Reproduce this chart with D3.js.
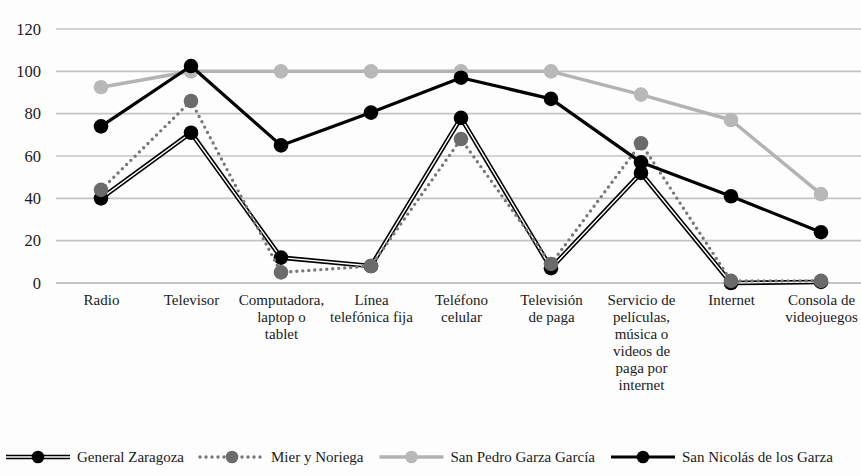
<!DOCTYPE html>
<html>
<head>
<meta charset="utf-8">
<script src="https://cdn.jsdelivr.net/npm/d3@7/dist/d3.min.js"></script>
</head>
<body style="margin:0;background:#fdfdfd">
<svg id="chart" width="861" height="476" font-family="Liberation Serif"></svg>
<script>
// Category labels, one entry per line of the wrapped tick text
const categoryLines = [
  ["Radio"],
  ["Televisor"],
  ["Computadora,", "laptop o", "tablet"],
  ["Línea", "telefónica fija"],
  ["Teléfono", "celular"],
  ["Televisión", "de paga"],
  ["Servicio de", "películas,", "música o", "videos de", "paga por", "internet"],
  ["Internet"],
  ["Consola de", "videojuegos"]
];
const categories = categoryLines.map(l => l.join(" "));

const yTicks = [0, 20, 40, 60, 80, 100, 120];

const seriesNames = ["General Zaragoza", "Mier y Noriega", "San Pedro Garza García", "San Nicolás de los Garza"];
const generalZaragoza = [40, 71, 12, 8, 78, 7, 52, 0, 0.5];
const mierYNoriega    = [44, 86, 5, 8, 68, 9, 66, 1, 1];
const sanPedro        = [92.5, 100, 100, 100, 100, 100, 89, 77, 42];
const sanNicolas      = [74, 102.5, 65, 80.5, 97, 87, 57, 41, 24];

const seriesValues = [generalZaragoza, mierYNoriega, sanPedro, sanNicolas];

const FONT = "Liberation Serif";

// Visual style of each series
const styles = [
  { kind: "double", line: "#000", marker: "#000" },
  { kind: "dots",   line: "#777", marker: "#6b6b6b" },
  { kind: "solid",  line: "#b3b3b3", marker: "#b8b8b8", width: 3.5 },
  { kind: "solid",  line: "#000", marker: "#000", width: 3.2 }
];

const svg = d3.select("#chart");
const plotLeft = 56, plotRight = 866, plotTop = 29, plotBottom = 283;

const x = d3.scalePoint().domain(categories).range([plotLeft, plotRight]).padding(0.5);
const y = d3.scaleLinear().domain([0, 120]).range([plotBottom, plotTop]);

// Horizontal gridlines
svg.append("g")
  .selectAll("line")
  .data(yTicks)
  .join("line")
  .attr("x1", plotLeft).attr("x2", plotRight)
  .attr("y1", d => y(d)).attr("y2", d => y(d))
  .attr("stroke", d => d === 0 ? "#b0b0b0" : "#c4c4c4")
  .attr("stroke-width", 1.6);

// Y axis labels
const yAxis = d3.axisLeft(y).tickValues(yTicks).tickSize(0).tickPadding(0);
svg.append("g")
  .attr("transform", "translate(41,0)")
  .call(yAxis)
  .call(g => g.select(".domain").remove())
  .attr("font-family", FONT)
  .attr("font-size", 16.5)
  .call(g => g.selectAll("text")
    .attr("font-family", FONT)
    .style("font-family", FONT)
    .attr("fill", "#1a1a1a"));

// Category labels below the plot
const xAxis = d3.axisBottom(x).tickSize(0).tickFormat(() => "");
const xg = svg.append("g").attr("transform", `translate(0,${plotBottom})`).call(xAxis)
  .attr("font-family", FONT).attr("font-size", 15);
xg.select(".domain").remove();
xg.selectAll(".tick").each(function(d, i) {
  const t = d3.select(this).append("text")
    .attr("text-anchor", "middle")
    .attr("font-family", FONT)
    .style("font-family", FONT)
    .attr("font-size", 15)
    .attr("fill", "#1a1a1a");
  categoryLines[i].forEach((ln, k) => {
    t.append("tspan").attr("x", 0).attr("y", 22 + k * 17).text(ln);
  });
});

const line = d3.line().x((d, i) => x(categories[i])).y(d => y(d));

function drawLine(g, vals, st) {
  if (st.kind === "double") {
    g.append("path").attr("d", line(vals)).attr("fill", "none")
      .attr("stroke", "#000").attr("stroke-width", 4.6).attr("stroke-linejoin", "round");
    g.append("path").attr("d", line(vals)).attr("fill", "none")
      .attr("stroke", "#fff").attr("stroke-width", 1.4).attr("stroke-linejoin", "round");
  } else if (st.kind === "dots") {
    g.append("path").attr("d", line(vals)).attr("fill", "none")
      .attr("stroke", st.line).attr("stroke-width", 3.4)
      .attr("stroke-linecap", "round").attr("stroke-dasharray", "0,6");
  } else {
    g.append("path").attr("d", line(vals)).attr("fill", "none")
      .attr("stroke", st.line).attr("stroke-width", st.width).attr("stroke-linejoin", "round");
  }
}

// Series lines and markers, drawn in legend order
seriesValues.forEach((vals, s) => {
  const g = svg.append("g");
  drawLine(g, vals, styles[s]);
  g.selectAll("circle").data(vals).join("circle")
    .attr("cx", (d, i) => x(categories[i]))
    .attr("cy", d => y(d))
    .attr("r", 7.3)
    .attr("fill", styles[s].marker);
});

// Legend
const legendY = 457;
const symLen = 64;
const legend = svg.append("g");
const items = [];
seriesNames.forEach((name, s) => {
  const g = legend.append("g");
  const st = styles[s];
  const seg = [[0, legendY], [symLen, legendY]];
  const ln = d3.line();
  if (st.kind === "double") {
    g.append("path").attr("d", ln(seg)).attr("stroke", "#000").attr("stroke-width", 4.6);
    g.append("path").attr("d", ln(seg)).attr("stroke", "#fff").attr("stroke-width", 1.4);
  } else if (st.kind === "dots") {
    g.append("path").attr("d", ln(seg)).attr("stroke", st.line).attr("stroke-width", 3.4)
      .attr("stroke-linecap", "round").attr("stroke-dasharray", "0,6");
  } else {
    g.append("path").attr("d", ln(seg)).attr("stroke", st.line).attr("stroke-width", st.width);
  }
  g.append("circle").attr("cx", symLen / 2).attr("cy", legendY).attr("r", 6.3).attr("fill", st.marker);
  const t = g.append("text").attr("x", symLen + 7).attr("y", legendY + 5)
    .attr("font-family", FONT)
    .style("font-family", FONT)
    .attr("font-size", 15)
    .attr("fill", "#1a1a1a").text(name);
  items.push({ g, w: symLen + 7 + t.node().getComputedTextLength() });
});
const gap = 16;
let cx = 6;
items.forEach(it => { it.g.attr("transform", `translate(${cx},0)`); cx += it.w + gap; });
</script>
</body>
</html>
